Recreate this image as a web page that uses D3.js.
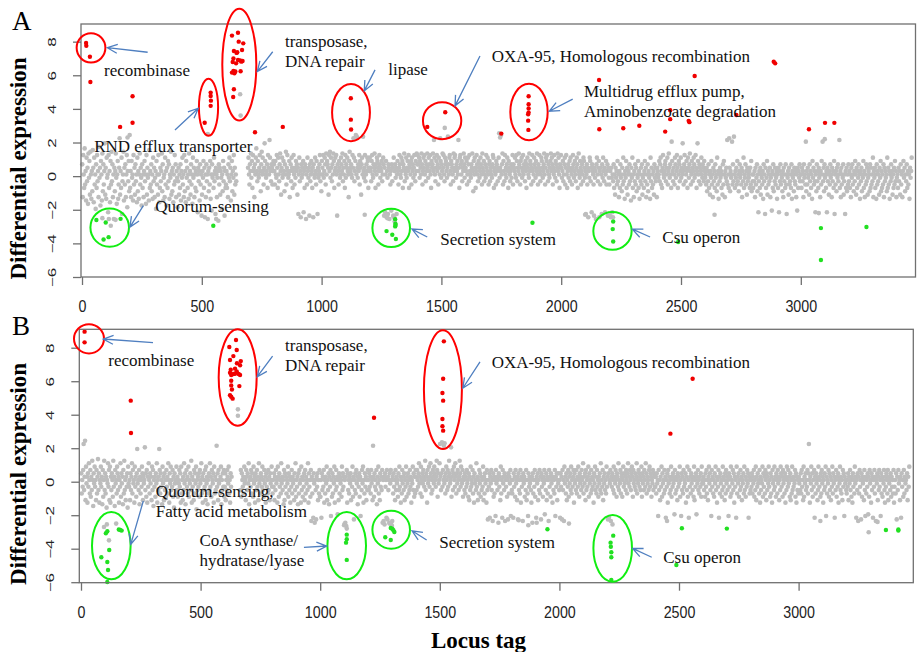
<!DOCTYPE html>
<html>
<head>
<meta charset="utf-8">
<script src="https://cdn.jsdelivr.net/npm/d3@7"></script>
<style>
body { margin: 0; background: #fff; }
</style>
</head>
<body>
<svg id="chart" width="921" height="652"></svg>
<script>
// gray genes: one char per 2 locus tags (200 loci per line), '.' = no point
// A..Z are below zero, a..z above; the further a letter sits from the Z|a boundary the larger the value
const codeChars = "ABCDEFGHIJKLMNOPQRSTUVWXYZabcdefghijklmnopqrstuvwxyz";

const grayA = [
  "dTgaWkXbRf YcPhZeUiaS bVjcQfXaMd WgYbTlZcOe aRhVdXbnUc SfZaKgWbQe XiYdTaGcVb hZPaeSXcqU bWfJYaiRcX dTagNbYeVs",
  "WbTeZaRgXc UdYaQfVbSa hXcZOdWaTb eYaPgUcZaR jWbXdVaSfY cTZbMeXaUg aQWcYbhVdR ZaTfXbOcWe YdSaZiUbVc QaXgYdTbZN",
  "YcUaWdRbZf XaTgVbQeZc WaShYbUdXa PfZcTaWbVe aKcYbRdXaI UbZeWcHaTd YaGbVcXeSa LdZaWfYbJc aTZbFdXcUb ZMaVeYcIbW",
  "XbWaTdZfYc RaeVbZgUcX aY....................... cfaXdbhZeW gbcTdafkbY eaZcgbVdia fbXcneaZbd WgcapfbYdc Xbe",
  "dbXeaZgcWf aYdhbUcfZa ebVdaiXcgb ZaeTbdYfcW bgaXcZebdU cJafYbHdZc aeKbWdcGaX fbZcIdYaeb WcHdaZfbXe aJcZbdgYaV",
  "ecagZbfdXh aedcUgbiZf cYdaheWbfc gaIdbXecZa fdbhYcaeWg ZdcfbaTeic bdaZgcqfYb esarcZdbgX ecUdfarbZc gYadbfeWcb",
  "fcbYegaZdc hbWdafecXb gdZcbeYafd IcKaeHbZJd cGaXbLdYcI fHbdZcJaeb XcgdaZfbeW dchYbafZce bgWdcaeXfb dZcgaYebhd",
  "gdbfZecahd XbfcgaeYdb hcZfdbgaWe cdhbpfaYce gbdXfcaqeZ dbhcgaYfde bZcrdafgbX edcaYhbfgc ZdbeapcWfg daeYcbhdZf",
  "cbeXafdYgb aZdchbVeaf cWbgdaYecZ bfdaXhcbeY adZgcbfaXd eYbcaZdgfW bcaXedbYcf tZcbsadhXe bYgacZdfbW ecaYbdZcgX",
  "dcbfaZgeYc bhdaXecfZb gadcYebWdf caZhbedXcg bYafdcZebh aXdcgbYafe cZbdhaXcfe gbYdaZcehb fdXcagbZed YchbfaWdcg",
  "cZbeYadfXc gaWbdZceYf baXcgdZbea YcfdWbhaZe cXbdaYfecZ bJadXcHbZf eYcKdbaXIc ZbGdfaYceH bXcaJdZfbY cKaeXbdIcZ",
  "XIbHcZKaYd WaUcZbXeYa TbWdZaVcXf YaSbZeWcUa bXdYaRcZfW aTbYdXcVaZ eWbSaYcXdU ZaWbeYcTaX dVbZaSfYcW aXbUdZcYaT",
  "cbZaeYdfXb WcgaZbdeYc afXbhcZdaW oebYcaXfdZ bgcWaedYbf ZcanbXdgcY aebWfcZdhb XaecYbfdZa gcWbneaYdc XbfaZdcYeb",
  "ZaXcVbYdWa UbZeXaTcYb WdZaVfXbSa YcZbWaUdXe aTbZcYpXaW qcVbZaoXdY raWbZcXeYa VbdZaXcTbY fWaZdXbUcY aZbWcXeVaY",
  "WaYbTcXZdV aKYbWcUaZX bSdYaJcWZe UbXaYcTZaL bWdVaYcXZb SaWcKbYdXa ZVbTcYaWdX JaZbUcXYaW dSbZaVcYXb TaLcWbZdYa",
  "aWcYbTdZaX oVbXcZaUdY bWaSeZcXbY KaVdYbWcZa TbXeaoYcVd ZaWbKcYaUb XdZaTcYbWe JaXbVcZdYa pWbTcXaZdU YaJbWcVaXd",
  "YbWaTcZdXa VbYeaUcWbZ dXaSbYcVaZ eWbTaXdYcU ZbaVdWcXaY fTbZcWaSdX bYaUcZeVbW aXdTcYbZaV fWcXbSaYdZ bUaWcXeYbT",
  "ZaWcYbUdXa TbeZcVaYdW bXaScZbf"
];

const grayB = [
  "cWaYdqXbsU eZbTcYfaWd VbXgaRcZeY aUdWbhXcTa ZeYbSdVagX cWbQaZfYdU eTbXcaVgYb RdZaWecXbT aYfVcZbSdW gXaUbYcQeZ",
  "YaUcXbfWdZ aTeYbVcnZa XdSbWaYecU bZaoXcVdTb YfaWcZbUeX dRaYbVcZfT aXbndWcYaS eZbUcXaVdY bWfaTcZeXa YdVbQcZaWe",
  "XbVaZdYcTe WaUbXfZcSa dYbWeVaZcX gTbYaUdWcZ ePaXbYcVdZ afWbTcXaYd UeZbSaWcXf YbVdaZcTeW bXapYcUdZa WbeSaXcYdV",
  "YcUaXdbZeW aTcYb................. XdVcaYbWeZ aUdbXcZfSa bYdWcaVeZb TcaXdYbUfZ aWcbYeXaVd ZbTcYaWdXb UcZaeY",
  "WaYcUbXdZa TebVcYaWfZ bXaSdUcYbW aZeVcXbTaY dWbZaUcXfV aYbScWdZaT eXbVaYcUdW bZaXfTcYaV dIbWaKcZHa XJbYcUaWdV",
  "VaKcXbYdTa WbZeUaXcSb YdLaVcWbZe TaXdYbMaUc WbZaVeXcYb GaHbFdTcXa WbZcUaYeVb JaXcWdZbSa YcVbLaXdZe TaWcYbUaXd",
  "aXcYbWdZaU pbVcYaXdSb ZeWaUcYbXd HaIbGcYaKd JbXaHcZdGa IbWcYaUdXb ZaVcXeYbTa WdZbXcUaYe VbZcWaXdYb TaZeXcVbWd",
  "bXdaYcfZbW eaVcZdbYag XcbTdZaeYb fcWaXdbZec aYbgdVcZaf qbXcrYdapZ bWceaXdYbg cZaoVbdXce aYfbWcZdaX bgcYeaZdVb",
  "aXcWbYdZaV cUbXeYaZdW bTcZaXfYbU aWdZcVbXaY eUbWcZaTdX JaYcKbZdXa IcVbWaLdZb XaHcYbUeWa KdZbXcIaYb VaJcWbZdLa",
  "XWaKcYbVdZ aUbJcXaWdT bYaIcZbVaX dUaWLcYbZa XTbHcWaYdV aKbZcUaXdW bJcYaVbZdM aXcUbWaIdY bVcZaTbXaW dLbYcUaZcX",
  "aKcYbJdXaI eZbWcUaYdV bZcXeWaYbd TcZaXdWbYe aVcZbXdaYf WbZcUdXaYb eVcZaWdXbY aTcZeXbWdY aVbZcXfWaY dUbZcXaWeY",
  "bJcKaZdIbY caXeWbZdaV cbYfXaZdWc bVaeYcZbXd aWcfZbYdaX cebVdZaYcX bfWaZdcYbX aeVcZbXdaY fcWbZaXdeY cbVaZdXcbY",
  "YbWcZaLdXa UbYeVcZaWd XbKaYcTdZb WaXeVbYcZa MdWbXaUcYb ZeVaLcXbWd YaZcTbXeVa KdYbWcZaXb VeUaYcMbZd XaWbYcVeZa",
  "ZbXaVcYdWa UbeZcXaLdY bWaVcZeXbT aYdKbWcZaV XebYaUcWdZ bXaLcYbVeW aZdXcTbYaK eWbZcVaXdY bUaZcWeXbV aYdZcKbWaX",
  "aYcWbZdVaX eUbYcZaWdT bXaZeVcYbW daUcXbZeYa VcWbTdZaXe YbVcaWdZbU aXecYbVdZa WcTbXeaYdZ bVcUaWeXbY aZdVcTbXaW",
  "bZaXcWdYaU eVbZcXaYdW cqaTbZeXcV aYdKbWcZaU XebYaVcWdZ bTaXcYeLbW aZdVcXbUaY eWcZbKaXdV bYcTaZeXbW aUdYcLbZaX",
  "WaYcUbZdXa VbTcYaWeZb KaXcIbWdYa JcVbZaUdXL bWaYcMbVdZ aTcXbKaYdW bIaZcUbXdY aLcWbVaZdX TbYcaWdUbZ aXcVbYaWdT",
  "YaWcJbXdZa UbKcYaVdWb ZaXcUbYe"
];

// single gray points that sit outside the coded band [locus, value]
const grayExtraA = [[660, 4.87], [662, 3.6], [525, 2.5], [1514, 2.87], [85, -2.5], [112, -2.55], [120, -2.95],
  [140, -2.6], [1300, -2.4], [1305, -2.7], [2216, -2.45], [1745, 2.3], [560, -2.55], [1180, -2.3],
  [2640, -2.3], [3075, -2.2], [3100, 2.2], [190, 2.3], [1275, -2.5], [2100, -2.3]];
const grayExtraB = [[656, 4.32], [656, 3.94], [96, -2.7], [108, -2.55], [117, -3.5], [147, -2.5], [1100, -2.6],
  [1111, -2.8], [1290, -2.5], [1300, -2.65], [2222, -2.55], [3293, -3.02], [1520, 2.3], [2040, -2.5],
  [1870, -2.6], [3330, -2.4], [2450, -2.35], [3091, -2.35], [1830, -2.3], [1905, -2.45]];

// up-regulated genes (red) [locus, value]
const upA = [[17, 7.92], [18, 7.76], [33, 7.1], [35, 5.6], [211, 4.75], [211, 3.18], [159, 2.93],
  [537, 4.97], [537, 4.77], [538, 4.49], [537, 4.18], [512, 3.18],
  [651, 8.53], [626, 8.36], [654, 8.0], [673, 7.9], [634, 7.44], [648, 7.37], [668, 7.5], [632, 7.0],
  [651, 6.91], [665, 6.81], [629, 6.79], [643, 6.71], [632, 6.26], [626, 6.16], [640, 6.22], [662, 6.24],
  [634, 5.17], [631, 4.71], [645, 7.33], [660, 6.88], [636, 6.12], [670, 6.85],
  [722, 2.61], [838, 2.93], [1122, 4.63], [1122, 3.36], [1123, 2.77], [1516, 3.8], [1441, 2.93], [1750, 2.53],
  [1864, 4.75], [1864, 4.28], [1864, 4.02], [1864, 3.78], [1862, 3.68], [1862, 3.3], [1863, 2.75],
  [2158, 5.72], [2159, 2.79], [2887, 6.81], [2893, 6.71], [2557, 5.96], [2455, 3.92], [2455, 3.39],
  [2532, 3.29], [2535, 3.21], [2731, 3.64], [2259, 2.85], [2326, 3.0], [2434, 2.65], [3034, 2.79],
  [3101, 3.17], [3140, 3.17]];
// down-regulated genes (green)
const downA = [[60, -2.61], [99, -2.76], [161, -2.54], [90, -3.77], [111, -3.63], [548, -2.95],
  [1307, -2.56], [1308, -2.83], [1307, -2.99], [1309, -2.9], [1271, -3.27], [1295, -3.49], [1310, -3.74],
  [1880, -2.77], [2217, -2.7], [2215, -3.15], [2217, -3.89], [2488, -3.92], [3084, -3.09], [3084, -4.99],
  [3274, -3.03]];

const upB = [[15, 8.96], [15, 8.32], [208, 4.84], [209, 2.91],
  [648, 8.46], [620, 8.04], [651, 7.86], [637, 7.5], [623, 7.27], [652, 7.07], [668, 7.2], [626, 6.69],
  [644, 6.75], [665, 6.95], [623, 6.51], [637, 6.43], [651, 6.59], [659, 6.43], [665, 6.37], [628, 6.37],
  [644, 6.45], [628, 6.03], [662, 5.71], [628, 5.75], [631, 5.51], [623, 5.16], [628, 5.07], [634, 4.96],
  [1517, 8.38], [1514, 6.15], [1511, 5.3], [1514, 4.84], [1511, 3.74], [1511, 3.31], [1514, 3.05],
  [1225, 3.82], [2557, 6.15], [2464, 2.87]];
const downB = [[110, -2.96], [104, -3.08], [158, -2.85], [164, -2.88], [170, -2.92], [118, -4.08], [85, -4.51],
  [110, -4.79], [113, -5.27], [110, -5.99], [1111, -3.16], [1111, -3.44], [1108, -3.64], [1111, -4.67],
  [1295, -2.76], [1306, -2.9], [1310, -3.0], [1302, -2.82], [1272, -3.32], [1295, -3.48], [1950, -2.84],
  [2225, -3.22], [2214, -3.64], [2215, -3.88], [2217, -4.21], [2217, -4.51], [2217, -5.87],
  [2512, -2.78], [2700, -2.8], [2489, -4.97], [3365, -2.88], [3417, -2.85], [3417, -2.92]];

const xTicks = [0, 500, 1000, 1500, 2000, 2500, 3000];
const yTicks = [-6, -4, -2, 0, 2, 4, 6, 8];

// gene groups circled: [locus, value, half width (loci), half height (value), up/down]
const groupsA = [[37.6, 7.63, 60, 0.87, "up"], [528, 4.1, 40, 1.7, "up"], [656.5, 6.63, 71, 3.32, "up"],
  [1122.7, 3.78, 79, 1.7, "up"], [1503, 3.3, 80, 1.1, "up"], [1865.6, 3.81, 78, 1.68, "up"],
  [115.6, -3.06, 80.5, 1.14, "down"], [1290.5, -3.08, 78.5, 1.14, "down"], [2214, -3.26, 80, 1.12, "down"]];
const groupsB = [[33.4, 8.53, 62.7, 0.87, "up"], [655, 6.22, 79.4, 2.88, "up"], [1513, 5.5, 79.4, 3.55, "up"],
  [126.7, -3.82, 80.7, 2.01, "down"], [1110.8, -3.82, 80.7, 2.01, "down"], [1296.8, -2.87, 78.6, 1.13, "down"],
  [2222.8, -3.98, 80.7, 1.99, "down"]];

// labels: [text lines, locus, value of first baseline]
const labelsA = [[["recombinase"], 92, 5.96], [["transposase,", "DNA repair"], 847, 7.71],
  [["RND efflux transporter"], 51, 1.43], [["Quorum-sensing"], 306, -2.15], [["lipase"], 1278, 6.04],
  [["OXA-95, Homologous recombination"], 1710, 6.81],
  [["Multidrug efflux pump,", "Aminobenzoate degradation"], 2095, 4.73],
  [["Secretion system"], 1495, -4.08], [["Csu operon"], 2422, -3.98]];
const labelsB = [[["recombinase"], 114, 6.91], [["transposase,", "DNA repair"], 853, 7.8],
  [["OXA-95, Homologous recombination"], 1717, 6.79],
  [["Quorum-sensing,", "Fatty acid metabolism"], 313, -0.91], [["CoA synthase/", "hydratase/lyase"], 495, -3.82],
  [["Secretion system"], 1498, -3.98], [["Csu operon"], 2434, -4.87]];

// arrows: [from locus, from value, to locus, to value]
const arrowsA = [[274, 7.37, 105.6, 7.64], [796, 7.4, 731.6, 6.22], [388, 2.75, 485.4, 4.04],
  [256, -1.75, 200, -3.03], [1223, 6.32, 1178, 5.07], [1661, 7.15, 1557, 4.18], [2048, 4.58, 1950, 3.86],
  [1441, -3.62, 1377, -3.15], [2371, -3.62, 2297, -3.15]];
const arrowsB = [[301, 8.3, 93, 8.52], [801, 7.5, 737, 6.27], [1668, 7.16, 1596, 5.58],
  [260.5, -1.15, 208, -3.74], [932, -3.92, 1027, -3.84], [1445, -3.48, 1384, -2.93], [2386, -4.51, 2306, -3.98]];

const svg = d3.select("#chart");
const serif = "'Liberation Serif', 'Times New Roman', Times, serif";
const sans = "'Liberation Sans', Arial, Helvetica, sans-serif";
const axisColor = "#707070";
const upColor = "#f00000", downColor = "#22e022";
const ringColor = {up: "#ff0000", down: "#11ee11"};
const arrowColor = "#4f7fc0";

// letter -> value: 0.2 per letter near the Z|a boundary, 0.1 per letter further out
function letterValue(c) {
  let i = codeChars.indexOf(c);
  let d = Math.abs(i - 25.5);
  let m = d < 6 ? 0.2 * d : 1.2 + 0.1 * (d - 6);
  return i < 26 ? -m : m;
}

function decode(lines) {
  let pts = [];
  lines.forEach((ln, k) => {
    let s = ln.replace(/ /g, "");
    let span = k == lines.length - 1 ? 64 : 200;
    for (let j = 0; j < s.length; j++) {
      if (s[j] == ".") continue;
      pts.push([k * 200 + 1 + j * span / s.length, letterValue(s[j])]);
    }
  });
  return pts;
}

function drawPanel(cfg) {
  let g = svg.append("g");
  let x = d3.scaleLinear().domain(cfg.xDom).range([cfg.left, cfg.left + cfg.width]);
  let y = d3.scaleLinear().domain(cfg.yDom).range([cfg.top + cfg.height, cfg.top]);

  let gray = decode(cfg.gray).concat(cfg.grayExtra);
  g.append("g").selectAll("circle")
    .data(gray)
    .enter()
    .append("circle")
      .attr("cx", d => x(d[0]))
      .attr("cy", d => y(d[1]))
      .attr("r", 2.3)
      .attr("fill", "#bdbdbd");

  g.append("g").selectAll("circle")
    .data(cfg.up)
    .enter()
    .append("circle")
      .attr("cx", d => x(d[0]))
      .attr("cy", d => y(d[1]))
      .attr("r", 2.2)
      .attr("fill", upColor);

  g.append("g").selectAll("circle")
    .data(cfg.down)
    .enter()
    .append("circle")
      .attr("cx", d => x(d[0]))
      .attr("cy", d => y(d[1]))
      .attr("r", 2.2)
      .attr("fill", downColor);

  // box
  g.append("rect")
    .attr("x", cfg.left)
    .attr("y", cfg.top)
    .attr("width", cfg.width)
    .attr("height", cfg.height)
    .attr("fill", "none")
    .attr("stroke", axisColor)
    .attr("stroke-width", 1.3);

  let xAxis = g.append("g")
    .attr("transform", "translate(0," + (cfg.top + cfg.height) + ")")
    .call(d3.axisBottom(x).tickValues(xTicks).tickSize(8).tickFormat(d3.format("d")));
  xAxis.select(".domain").remove();
  xAxis.selectAll("line").attr("stroke", axisColor).attr("stroke-width", 1.3);
  xAxis.selectAll("text")
    .attr("y", 35.5)
    .attr("dy", 0)
    .attr("fill", "#222")
    .attr("font-family", sans)
    .attr("font-size", 17)
    .attr("transform", "scale(0.84,1)");

  let yAxis = g.append("g")
    .attr("transform", "translate(" + cfg.left + ",0)")
    .call(d3.axisLeft(y).tickValues(yTicks).tickSize(8));
  yAxis.select(".domain").remove();
  yAxis.selectAll("line").attr("stroke", axisColor).attr("stroke-width", 1.3);
  yAxis.selectAll("text")
    .attr("x", 0)
    .attr("y", 0)
    .attr("dy", 0)
    .attr("text-anchor", "middle")
    .attr("fill", "#222")
    .attr("font-family", sans)
    .attr("font-size", 17)
    .attr("transform", "translate(-25,0) scale(0.62,1) rotate(-90)");

  // rings round the gene groups
  g.append("g").selectAll("ellipse")
    .data(cfg.groups)
    .enter()
    .append("ellipse")
      .attr("cx", d => x(d[0]))
      .attr("cy", d => y(d[1]))
      .attr("rx", d => x(d[2]) - x(0))
      .attr("ry", d => y(0) - y(d[3]))
      .attr("fill", "none")
      .attr("stroke", d => ringColor[d[4]])
      .attr("stroke-width", 2);

  // arrows with open heads
  let arr = g.append("g").attr("stroke", arrowColor).attr("stroke-width", 1.3).attr("fill", "none");
  cfg.arrows.forEach(a => {
    let x1 = x(a[0]), y1 = y(a[1]), x2 = x(a[2]), y2 = y(a[3]);
    let ang = Math.atan2(y1 - y2, x1 - x2);
    let h = 11, sp = 0.42;
    let p = d3.path();
    p.moveTo(x1, y1);
    p.lineTo(x2, y2);
    p.moveTo(x2 + h * Math.cos(ang + sp), y2 + h * Math.sin(ang + sp));
    p.lineTo(x2, y2);
    p.lineTo(x2 + h * Math.cos(ang - sp), y2 + h * Math.sin(ang - sp));
    arr.append("path").attr("d", p.toString());
  });

  // annotation labels
  cfg.labels.forEach(l => {
    let t = g.append("text")
      .attr("x", x(l[1]))
      .attr("y", y(l[2]))
      .attr("font-family", serif)
      .attr("font-size", 17)
      .attr("fill", "#111");
    l[0].forEach((s, i) => {
      t.append("tspan")
        .attr("x", x(l[1]))
        .attr("dy", i == 0 ? 0 : 20)
        .text(s);
    });
  });

  // panel letter and y title
  svg.append("text")
    .attr("x", 12)
    .attr("y", cfg.top + 6)
    .attr("font-family", serif)
    .attr("font-size", 27)
    .text(cfg.letter);

  svg.append("text")
    .attr("transform", "translate(26," + (cfg.top + cfg.height / 2 + 18) + ") rotate(-90)")
    .attr("text-anchor", "middle")
    .attr("font-family", serif)
    .attr("font-weight", "bold")
    .attr("font-size", 23)
    .text("Differential expression");
}

drawPanel({letter: "A", left: 81, top: 24, width: 834.5, height: 253, xDom: [-4.2, 3478.7], yDom: [-6, 9.05],
  gray: grayA, grayExtra: grayExtraA, up: upA, down: downA, groups: groupsA, labels: labelsA, arrows: arrowsA});
drawPanel({letter: "B", left: 79.3, top: 329.3, width: 834, height: 253.4, xDom: [-7.1, 3479.5], yDom: [-6.03, 9.1],
  gray: grayB, grayExtra: grayExtraB, up: upB, down: downB, groups: groupsB, labels: labelsB, arrows: arrowsB});

svg.append("text")
  .attr("x", 478.5)
  .attr("y", 648)
  .attr("text-anchor", "middle")
  .attr("font-family", serif)
  .attr("font-weight", "bold")
  .attr("font-size", 23)
  .text("Locus tag");
</script>
</body>
</html>
